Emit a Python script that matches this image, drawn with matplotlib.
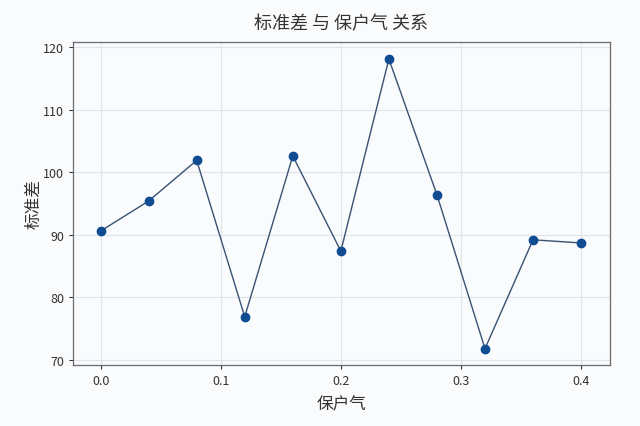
import matplotlib
matplotlib.use("Agg")
import matplotlib.pyplot as plt

plt.rcParams['font.family'] = ['Noto Sans CJK SC', 'DejaVu Sans']

# data
x_vals = [0.0, 0.04, 0.08, 0.12, 0.16, 0.20, 0.24, 0.28, 0.32, 0.36, 0.40]
std_vals = [90.6, 95.4, 101.9, 76.9, 102.6, 87.4, 118.1, 96.4, 71.8, 89.2, 88.7]
x_ticks = [0.0, 0.1, 0.2, 0.3, 0.4]
y_ticks = [70, 80, 90, 100, 110, 120]

bg = '#f9fbfd'
fig = plt.figure(figsize=(6.4, 4.27), dpi=100, facecolor=bg)
ax = fig.add_axes([0.114, 0.143, 0.839, 0.756], facecolor=bg)

ax.plot(x_vals, std_vals, color='#3a5272', linewidth=1.0, zorder=2)
ax.plot(x_vals, std_vals, 'o', color='#0f4c91', markersize=6, zorder=3)

ax.set_xlim(-0.023, 0.424)
ax.set_ylim(69.2, 120.8)
ax.set_xticks(x_ticks)
ax.set_yticks(y_ticks)
ax.set_xticklabels([f'{t:.1f}' for t in x_ticks])

ax.grid(True, color='#dfe3ea', linewidth=0.8)
ax.set_axisbelow(True)
for s in ax.spines.values():
    s.set_color('#6b6b6b')
    s.set_linewidth(0.9)
ax.tick_params(labelsize=9, colors='#333333', length=3)

ax.set_title('标准差 与 保户气 关系', fontsize=13, color='#333333', pad=10)
ax.set_xlabel('保户气', fontsize=12, color='#333333', labelpad=6)
ax.set_ylabel('标准差', fontsize=12, color='#333333', labelpad=0)

fig.savefig('out.png', dpi=100, facecolor=bg)
